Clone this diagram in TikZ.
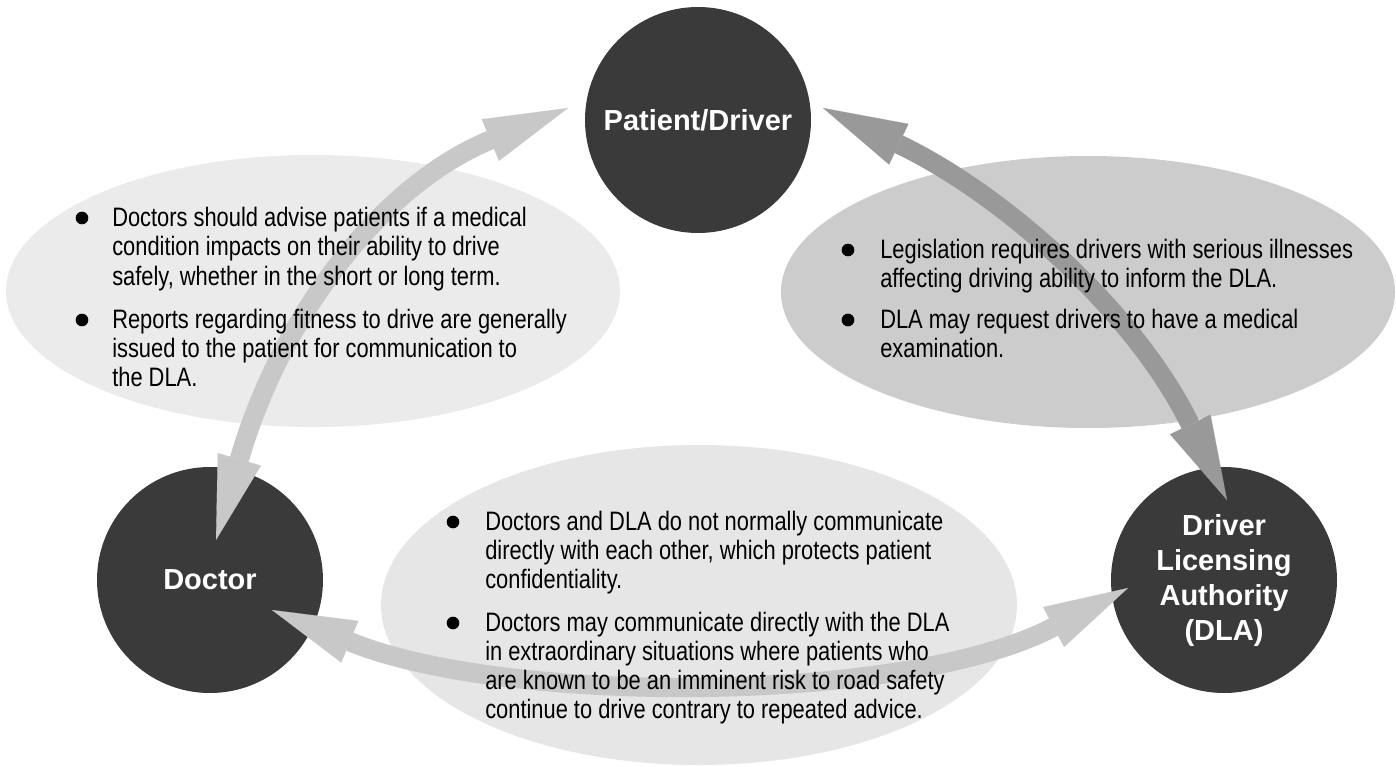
\documentclass[tikz,border=0pt]{standalone}
\usepackage{fontspec}
\setmainfont{Liberation Sans}[FakeStretch=0.82]
\newfontfamily\lblfont{Liberation Sans}
\usetikzlibrary{arrows.meta,shapes.geometric}
\definecolor{circ}{HTML}{3A3A3A}
\definecolor{ellL}{HTML}{EBEBEB}
\definecolor{ellR}{HTML}{CCCCCC}
\definecolor{ellB}{HTML}{E6E6E6}
\definecolor{arrL}{HTML}{C8C8C8}
\definecolor{arrD}{HTML}{999999}
\tikzset{
 bigcirc/.style={circle, fill=circ, minimum size=169.5pt, inner sep=0pt, text=white,
   font=\lblfont\bfseries\fontsize{21.75pt}{26.25pt}\selectfont, align=center},
 bgell/.style={ellipse, inner sep=0pt},
 flow/.style={line width=14.5pt,
   {Triangle[length=63pt,width=33.75pt,line width=0.1pt]}-{Triangle[length=63pt,width=33.75pt,line width=0.1pt]}},
 txt/.style={anchor=base west, inner sep=0pt, font=\fontsize{20pt}{21.75pt}\selectfont},
 dot/.style={circle, fill=black, minimum size=9.5pt, inner sep=0pt},
}
\begin{document}
\begin{tikzpicture}[x=0.75pt,y=-0.75pt]
\useasboundingbox (0,0) rectangle (1396,767);
\fill[white] (0,0) rectangle (1396,767);
% background ellipses
\node[bgell, fill=ellL, minimum width=460.5pt, minimum height=204pt] (eL) at (313,291) {};
\node[bgell, fill=ellR, minimum width=460.5pt, minimum height=204pt] (eR) at (1088,292) {};
\node[bgell, fill=ellB, minimum width=477pt, minimum height=240pt] (eB) at (699,605) {};
% actors
\node[bigcirc] (pat) at (698,120) {Patient/Driver};
\node[bigcirc] (doc) at (210,580) {Doctor};
\node[bigcirc] (dla) at (1224,580) {Driver\\Licensing\\Authority\\(DLA)};
% arrow ends
\coordinate (a1) at (216,540);
\coordinate (a2) at (568,108);
\coordinate (r1) at (823,108);
\coordinate (r2) at (1227,500);
\coordinate (c1) at (272,610);
\coordinate (c2) at (1128,588);
\draw[flow, arrL] (a1) .. controls (280,319) and (379,186) .. (a2);
\draw[flow, arrD] (r1) .. controls (1007,196) and (1137,315) .. (r2);
\draw[flow, arrL] (c1) .. controls (505,705) and (905,705) .. (c2);
% left text
\node[dot] (bl1) at (82,218) {};
\node[txt] (tl1) at (112,226) {Doctors should advise patients if a medical};
\node[txt] (tl2) at (112,255) {condition impacts on their ability to drive};
\node[txt] (tl3) at (112,285) {safely, whether in the short or long term.};
\node[dot] (bl2) at (82,320) {};
\node[txt] (tl4) at (112,328) {Reports regarding fitness to drive are generally};
\node[txt] (tl5) at (112,357) {issued to the patient for communication to};
\node[txt] (tl6) at (112,386) {the DLA.};
% right text
\node[dot] (br1) at (848,250) {};
\node[txt] (tr1) at (880,258) {Legislation requires drivers with serious illnesses};
\node[txt] (tr2) at (880,287) {affecting driving ability to inform the DLA.};
\node[dot] (br2) at (848,320) {};
\node[txt] (tr3) at (880,328) {DLA may request drivers to have a medical};
\node[txt] (tr4) at (880,357) {examination.};
% bottom text
\node[dot] (bb1) at (453,522) {};
\node[txt] (tb1) at (485,530) {Doctors and DLA do not normally communicate};
\node[txt] (tb2) at (485,559) {directly with each other, which protects patient};
\node[txt] (tb3) at (485,588) {confidentiality.};
\node[dot] (bb2) at (453,623) {};
\node[txt] (tb4) at (485,631) {Doctors may communicate directly with the DLA};
\node[txt] (tb5) at (485,660) {in extraordinary situations where patients who};
\node[txt] (tb6) at (485,689) {are known to be an imminent risk to road safety};
\node[txt] (tb7) at (485,718) {continue to drive contrary to repeated advice.};
\end{tikzpicture}
\end{document}
